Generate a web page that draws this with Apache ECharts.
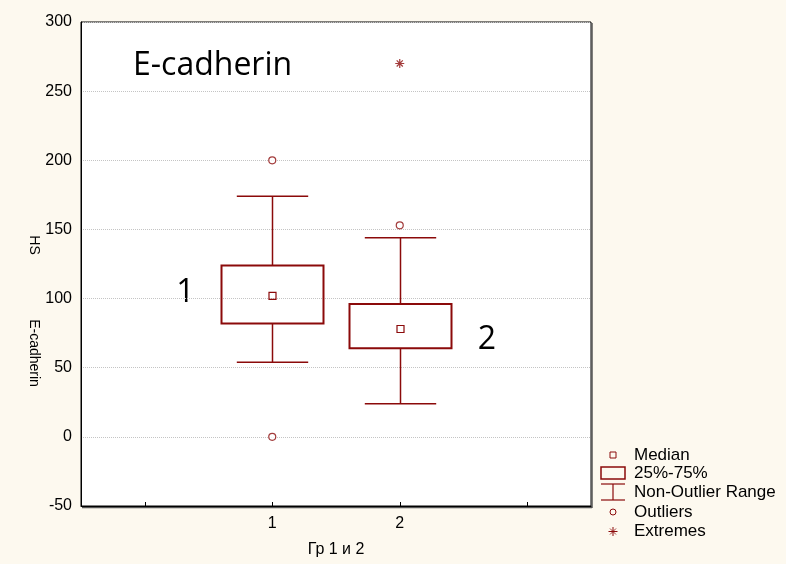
<!DOCTYPE html>
<html>
<head>
<meta charset="utf-8">
<script src="https://cdn.jsdelivr.net/npm/echarts@6/dist/echarts.min.js"></script>
<style>
html,body{margin:0;padding:0;background:#fdf9ef;}
#c{width:786px;height:564px;}
</style>
</head>
<body>
<div id="c"></div>
<script>
// ---- data ----
var xCategories = ['', '1', '2', ' '];
var groupIndex = [1, 2];
// [low whisker, Q1, median, Q3, high whisker]
var boxGroup1 = [54, 82, 102, 124, 174];
var boxGroup2 = [24, 64, 78, 96, 144];
var outliersGroup1 = [200, 0];
var outliersGroup2 = [153];
var extremesGroup2 = [270];
var yTicks = [-50, 0, 50, 100, 150, 200, 250, 300];
var legendLabels = ['Median', '25%-75%', 'Non-Outlier Range', 'Outliers', 'Extremes'];

var C = '#8b0a0a';
var boxData = [
  [groupIndex[0]].concat(boxGroup1),
  [groupIndex[1]].concat(boxGroup2)
];
var outlierData = outliersGroup1.map(function(v){return [groupIndex[0], v];})
  .concat(outliersGroup2.map(function(v){return [groupIndex[1], v];}));
var extremeData = extremesGroup2.map(function(v){return [groupIndex[1], v];});

var chart = echarts.init(document.getElementById('c'), null, {renderer:'canvas'});
var font = 'Liberation Sans, Arial, sans-serif';
var starPath = 'path://M5 0L5 10M0 5L10 5M1.6 1.6L8.4 8.4M8.4 1.6L1.6 8.4';

var legendY = [455, 473, 492, 512, 531];
function ln(x1, y1, x2, y2, w, col){
  return {type:'line', shape:{x1:x1, y1:y1, x2:x2, y2:y2}, style:{stroke:col || C, lineWidth:w || 1}};
}
var graphics = [
  {type:'text', x:133, y:66, style:{text:'E-cadherin', font:'32px "Open Sans"', fill:'#000', verticalAlign:'middle'}},
  {type:'text', x:185.5, y:293, style:{text:'1', font:'32px "Open Sans"', fill:'#000', align:'center', verticalAlign:'middle'}},
  {type:'text', x:487, y:340, style:{text:'2', font:'32px "Open Sans"', fill:'#000', align:'center', verticalAlign:'middle'}},
  {type:'text', x:34, y:245, rotation:-Math.PI/2, style:{text:'HS', font:'14px '+font, fill:'#000', align:'center', verticalAlign:'middle'}},
  {type:'text', x:34, y:353, rotation:-Math.PI/2, style:{text:'E-cadherin', font:'14px '+font, fill:'#000', align:'center', verticalAlign:'middle'}},
  // plot shadow lines
  ln(592, 23, 592, 508, 1.5, '#555'),
  ln(82, 507.5, 592, 507.5, 1.5, '#555'),
  // legend icons
  {type:'rect', shape:{x:610, y:legendY[0]-3, width:6, height:6}, style:{fill:'none', stroke:C, lineWidth:1}},
  {type:'rect', shape:{x:601, y:467, width:24, height:12}, style:{fill:'none', stroke:C, lineWidth:1.5}},
  ln(601, 484, 625, 484, 1.2),
  ln(613, 484, 613, 500, 1.2),
  ln(601, 500, 625, 500, 1.2),
  {type:'circle', shape:{cx:613, cy:legendY[3], r:3}, style:{fill:'none', stroke:C, lineWidth:1}},
  ln(613, 527, 613, 536, 1),
  ln(608.5, 531.5, 617.5, 531.5, 1),
  ln(610, 528.5, 616, 534.5, 0.8),
  ln(616, 528.5, 610, 534.5, 0.8)
];
legendLabels.forEach(function(t, i){
  graphics.push({type:'text', x:634, y:legendY[i], style:{text:t, font:'17px '+font, fill:'#000', verticalAlign:'middle'}});
});

var option = {
  backgroundColor:'#fdf9ef',
  animation:false,
  grid:{left:81, top:22, right:195, bottom:58, show:true, backgroundColor:'#fff', borderColor:'#000', borderWidth:1},
  xAxis:{
    type:'category', data:xCategories, boundaryGap:true,
    name:'Гр 1 и 2', nameLocation:'middle', nameGap:36,
    nameTextStyle:{fontSize:16, fontFamily:font, color:'#000'},
    axisLine:{show:true, onZero:false, lineStyle:{color:'#000'}},
    axisTick:{show:true, inside:true, alignWithLabel:true, length:4, lineStyle:{color:'#000'}},
    axisLabel:{fontSize:16, fontFamily:font, color:'#000', margin:10},
    splitLine:{show:false}
  },
  yAxis:{
    type:'value', min:yTicks[0], max:yTicks[yTicks.length-1], interval:50,
    axisLine:{show:true, onZero:false, lineStyle:{color:'#000'}},
    axisTick:{show:false},
    axisLabel:{fontSize:16, fontFamily:font, color:'#000', margin:9},
    splitLine:{show:true, lineStyle:{color:'#c4c4c4', type:'dotted', width:1}}
  },
  series:[
    {
      type:'custom', data:boxData, encode:{x:0, y:[1,2,3,4,5]},
      renderItem:function(params, api){
        var x = api.value(0);
        var lo = api.coord([x, api.value(1)]);
        var q1 = api.coord([x, api.value(2)]);
        var md = api.coord([x, api.value(3)]);
        var q3 = api.coord([x, api.value(4)]);
        var hi = api.coord([x, api.value(5)]);
        var w = api.size([1, 0])[0];
        var bw = w*0.8, cw = w*0.56;
        var cx = Math.round(lo[0]) + 0.5;
        var ls = {stroke:C, lineWidth:1.5};
        return {type:'group', children:[
          {type:'line', shape:{x1:cx, y1:hi[1], x2:cx, y2:q3[1]}, style:ls},
          {type:'line', shape:{x1:cx, y1:q1[1], x2:cx, y2:lo[1]}, style:ls},
          {type:'line', shape:{x1:cx-cw/2, y1:hi[1], x2:cx+cw/2, y2:hi[1]}, style:ls},
          {type:'line', shape:{x1:cx-cw/2, y1:lo[1], x2:cx+cw/2, y2:lo[1]}, style:ls},
          {type:'rect', shape:{x:cx-bw/2, y:q3[1], width:bw, height:q1[1]-q3[1]}, style:{fill:'none', stroke:C, lineWidth:2}},
          {type:'rect', shape:{x:cx-3.5, y:md[1]-3.5, width:7, height:7}, style:{fill:'none', stroke:C, lineWidth:1.2}}
        ]};
      }
    },
    {
      type:'scatter', data:outlierData, symbol:'circle', symbolSize:7,
      itemStyle:{color:'#fff', borderColor:C, borderWidth:1.2}
    },
    {
      type:'scatter', data:extremeData, symbol:starPath, symbolSize:9,
      itemStyle:{color:'none', borderColor:C, borderWidth:1.2}
    }
  ],
  graphic:graphics
};
chart.setOption(option);
</script>
</body>
</html>
